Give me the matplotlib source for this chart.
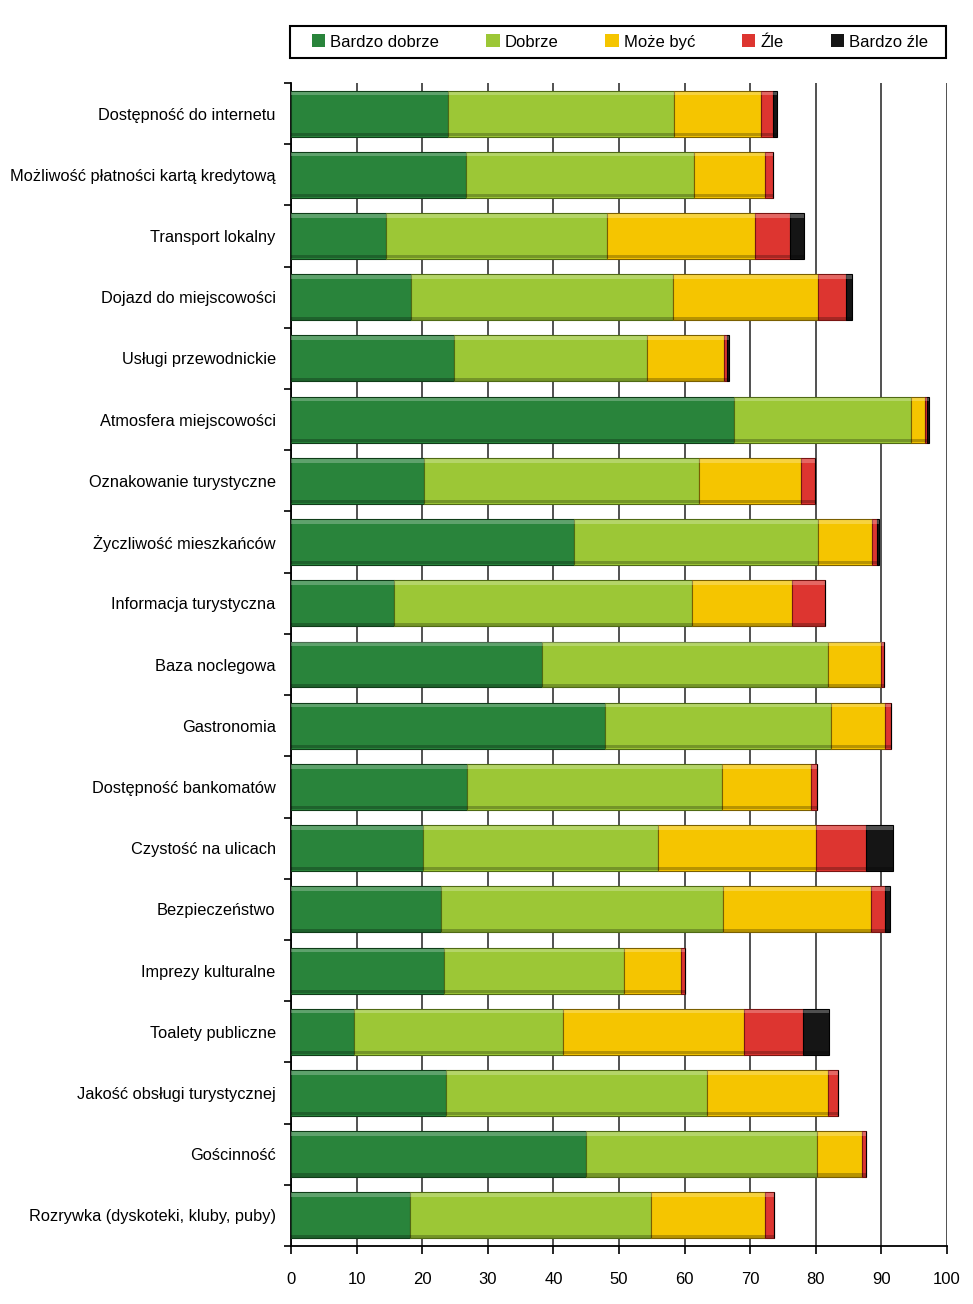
import numpy as np
import matplotlib
matplotlib.use('Agg')
from matplotlib import pyplot as plt
from matplotlib.patches import Patch, Rectangle

plt.rcParams['font.family'] = ['Liberation Sans', 'DejaVu Sans']

#Dane
kategorie = ['Dostępność do internetu', 'Możliwość płatności kartą kredytową',
             'Transport lokalny', 'Dojazd do miejscowości', 'Usługi przewodnickie',
             'Atmosfera miejscowości', 'Oznakowanie turystyczne', 'Życzliwość mieszkańców',
             'Informacja turystyczna', 'Baza noclegowa', 'Gastronomia',
             'Dostępność bankomatów', 'Czystość na ulicach', 'Bezpieczeństwo',
             'Imprezy kulturalne', 'Toalety publiczne', 'Jakość obsługi turystycznej',
             'Gościnność', 'Rozrywka (dyskoteki, kluby, puby)']

bardzo_dobrze = [24.0, 26.7, 14.5, 18.3, 24.8, 67.5, 20.3, 43.1, 15.7, 38.2,
                 47.8, 26.9, 20.1, 22.9, 23.3, 9.6, 23.6, 45.0, 18.2]
dobrze = [34.4, 34.7, 33.7, 39.9, 29.4, 27.0, 41.9, 37.3, 45.4, 43.6,
          34.5, 38.8, 35.8, 43.0, 27.4, 31.9, 39.8, 35.2, 36.7]
moze_byc = [13.3, 10.9, 22.6, 22.2, 11.8, 2.1, 15.5, 8.1, 15.3, 8.2,
            8.3, 13.5, 24.1, 22.5, 8.8, 27.5, 18.4, 6.8, 17.4]
zle = [1.8, 1.1, 5.2, 4.2, 0.5, 0.4, 2.2, 0.8, 5.0, 0.4,
       0.8, 1.0, 7.7, 2.2, 0.5, 9.0, 1.6, 0.7, 1.3]
bardzo_zle = [0.6, 0.0, 2.2, 0.9, 0.3, 0.2, 0.0, 0.3, 0.0, 0.0,
              0.0, 0.0, 4.1, 0.7, 0.0, 4.0, 0.0, 0.0, 0.0]

serie = [bardzo_dobrze, dobrze, moze_byc, zle, bardzo_zle]
nombres = ['Bardzo dobrze', 'Dobrze', 'Może być', 'Źle', 'Bardzo źle']
colores = ['#29843b', '#9cc736', '#f5c500', '#dd3530', '#151515']
bordes = ['#0f3d18', '#4f6a14', '#7a5f00', '#7a1512', '#000000']

W, H = 973, 1304
fig = plt.figure(figsize=(W/100, H/100), dpi=100)
ax = fig.add_axes([291/W, 1-1246/H, 656/W, 1163/H])

y = np.arange(len(kategorie))
izq = np.zeros(len(kategorie))
for vals, c, b in zip(serie, colores, bordes):
    vals = np.array(vals)
    ax.barh(y, vals, left=izq, height=0.75, color=c, edgecolor=b, linewidth=0.8, zorder=3)
    #brillo arriba y sombra abajo para simular el relieve
    ax.barh(y - 0.33, vals, left=izq, height=0.06, color='white', alpha=0.25,
            linewidth=0, zorder=4)
    ax.barh(y + 0.34, vals, left=izq, height=0.05, color='black', alpha=0.25,
            linewidth=0, zorder=4)
    izq += vals

ax.set_xlim(0, 100)
ax.set_ylim(len(kategorie) - 0.5, -0.5)
ax.set_xticks(np.arange(0, 101, 10))
ax.xaxis.grid(True, color='#222222', linewidth=1.1, zorder=0)
ax.set_axisbelow(True)

ax.set_yticks(y)
ax.set_yticklabels(kategorie, fontsize=11.8)
ax.set_yticks(np.arange(-0.5, len(kategorie)), minor=True)
ax.tick_params(axis='y', which='major', length=0, pad=11)
ax.tick_params(axis='y', which='minor', length=5, width=1.2)
ax.tick_params(axis='x', length=6, width=1.2, labelsize=12, pad=13)

for s in ['top', 'right']:
    ax.spines[s].set_visible(False)
ax.spines['left'].set_linewidth(1.3)
ax.spines['bottom'].set_linewidth(1.3)

#Marco de la leyenda
fig.patches.append(Rectangle((290/W, 1-58/H), 656/W, 32/H, transform=fig.transFigure,
                             fill=False, edgecolor='black', linewidth=1.5))
handles = [Patch(facecolor=c, edgecolor='none') for c in colores]
leg = fig.legend(handles, nombres, loc='center left', ncol=5, mode='expand',
                 bbox_to_anchor=(312/W, 1-58/H, 616/W, 32/H),
                 fontsize=12, handlelength=0.8, handleheight=0.8, handletextpad=0.3,
                 columnspacing=1.0, borderaxespad=0, borderpad=0,
                 frameon=False)

fig.savefig('out.png', dpi=100)
